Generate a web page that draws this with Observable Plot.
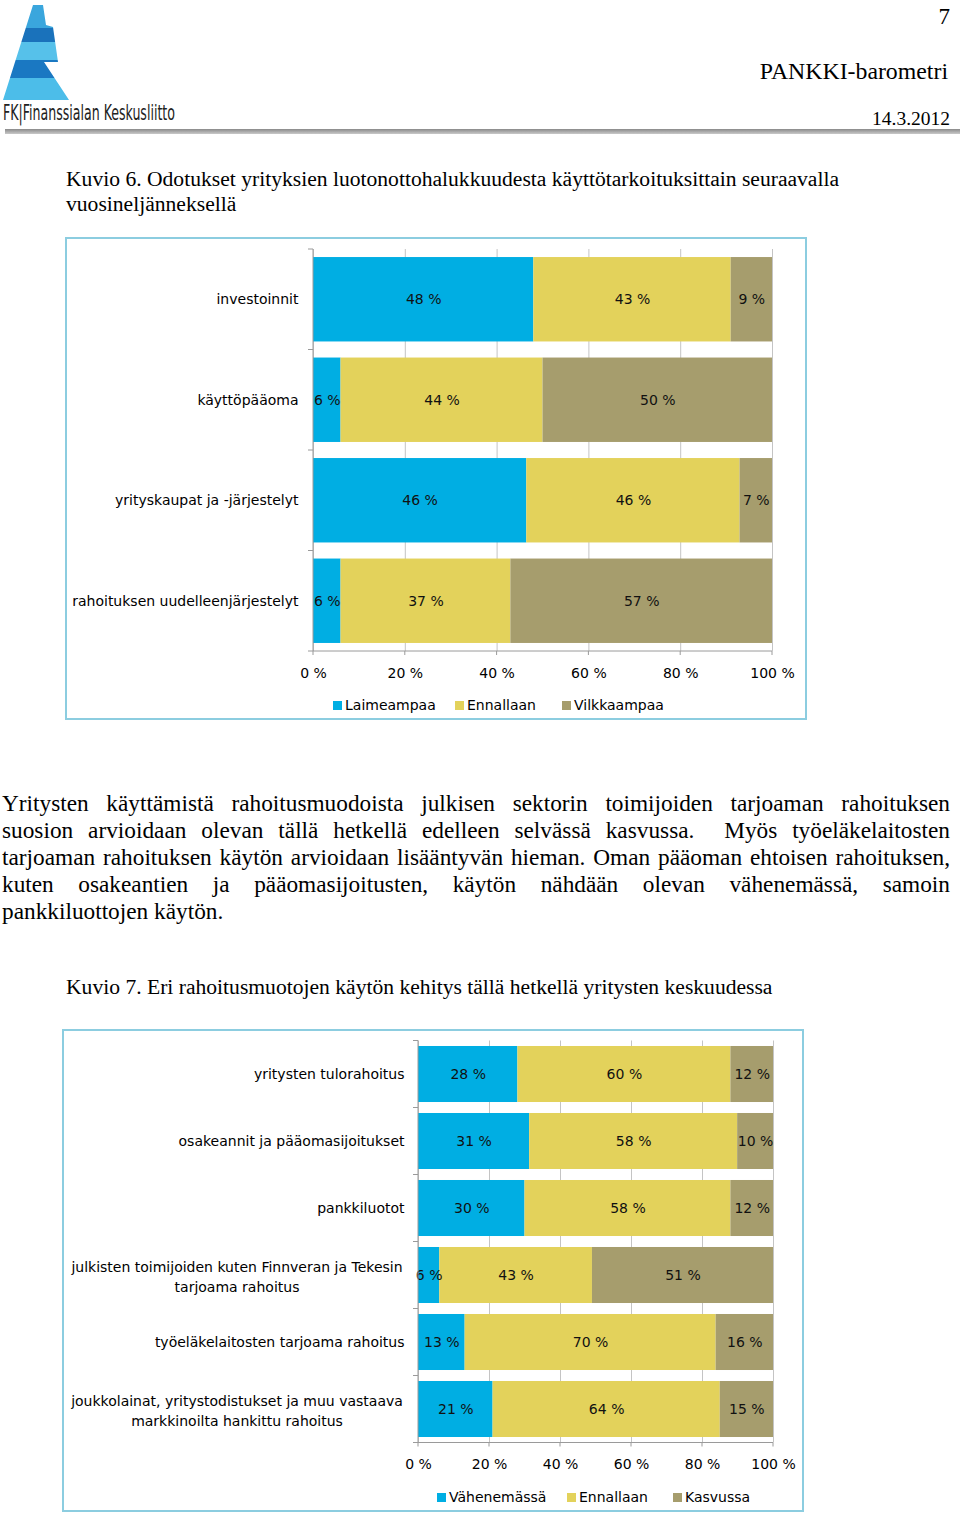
<!DOCTYPE html>
<html><head><meta charset="utf-8">
<script src="https://cdn.jsdelivr.net/npm/d3@7"></script>
<script src="https://cdn.jsdelivr.net/npm/@observablehq/plot@0.6"></script>
<style>
body{margin:0;background:#fff;}
#page{position:relative;width:960px;height:1513px;overflow:hidden;font-family:"Liberation Serif","Times New Roman",serif;color:#000;}
.abs{position:absolute;white-space:nowrap;}
.box{position:absolute;border:2px solid #8ccde0;box-sizing:border-box;}
.legend{position:absolute;font-family:"DejaVu Sans",sans-serif;font-size:14px;color:#000;height:18px;}
.legend .item{position:absolute;top:0;white-space:nowrap;line-height:18px;}
.legend .sw{display:inline-block;width:9px;height:9px;margin-right:3px;vertical-align:0px;}
.para{position:absolute;left:2px;width:948px;top:790px;font-size:23.3px;line-height:27px;}
.para div{text-align:justify;text-align-last:justify;white-space:nowrap;}
.para div.last{text-align-last:left;}
.chart{position:absolute;}
</style></head>
<body>
<div id="page">
  <svg class="abs" style="left:0;top:0" width="420" height="128">
    <defs><clipPath id="lc"><polygon points="33,5 43,5 46,25 53,27 58,62 44,62 69,100 3,100"/></clipPath></defs>
    <g clip-path="url(#lc)">
      <rect x="0" y="0" width="80" height="28" fill="#3aa6dd"/>
      <rect x="0" y="28" width="80" height="14" fill="#1a72bb"/>
      <rect x="0" y="42" width="80" height="18" fill="#56c1ea"/>
      <rect x="0" y="60" width="80" height="18" fill="#1a78c2"/>
      <rect x="0" y="78" width="80" height="24" fill="#4cbde9"/>
    </g>
    <text x="3" y="120" font-family="Liberation Sans Narrow, DejaVu Sans Condensed, sans-serif" font-size="22" fill="#222" textLength="172" lengthAdjust="spacingAndGlyphs">FK|Finanssialan Keskusliitto</text>
  </svg>
  <div class="abs" style="right:10px;top:5px;font-size:23px;line-height:23px;">7</div>
  <div class="abs" style="right:12px;top:60px;font-size:23.8px;line-height:23.8px;">PANKKI-barometri</div>
  <div class="abs" style="right:10px;top:109px;font-size:19.5px;line-height:19.5px;">14.3.2012</div>
  <div class="abs" style="left:5px;right:0;top:129px;height:5px;background:linear-gradient(#8a8a8a,#c9c9c9);"></div>

  <div class="abs" style="left:66px;top:167px;font-size:21.6px;line-height:25px;">Kuvio 6. Odotukset yrityksien luotonottohalukkuudesta käyttötarkoituksittain seuraavalla<br>vuosineljänneksellä</div>

  <div class="box" style="left:65px;top:237px;width:742px;height:483px;"></div>
  <div class="chart" id="c1" style="left:65px;top:240px;"></div>
  <div class="legend" id="l1" style="left:0;top:696px;"></div>

  <div class="para">
    <div>Yritysten käyttämistä rahoitusmuodoista julkisen sektorin toimijoiden tarjoaman rahoituksen</div>
    <div>suosion arvioidaan olevan tällä hetkellä edelleen selvässä kasvussa.&nbsp; Myös työeläkelaitosten</div>
    <div>tarjoaman rahoituksen käytön arvioidaan lisääntyvän hieman. Oman pääoman ehtoisen rahoituksen,</div>
    <div>kuten osakeantien ja pääomasijoitusten, käytön nähdään olevan vähenemässä, samoin</div>
    <div class="last">pankkiluottojen käytön.</div>
  </div>

  <div class="abs" style="left:66px;top:975px;font-size:21.6px;line-height:25px;">Kuvio 7. Eri rahoitusmuotojen käytön kehitys tällä hetkellä yritysten keskuudessa</div>

  <div class="box" style="left:62px;top:1029px;width:742px;height:483px;"></div>
  <div class="chart" id="c2" style="left:62px;top:1032px;"></div>
  <div class="legend" id="l2" style="left:0;top:1488px;"></div>
</div>
<script>
// ---- Data: Kuvio 6 ----
const cats1 = ["investoinnit", "käyttöpääoma", "yrityskaupat ja -järjestelyt", "rahoituksen uudelleenjärjestelyt"];
const series1 = ["Laimeampaa", "Ennallaan", "Vilkkaampaa"];
const laimeampaa = [48, 6, 46, 6];
const ennallaan1 = [43, 44, 46, 37];
const vilkkaampaa = [9, 50, 7, 57];

// ---- Data: Kuvio 7 ----
const cats2 = [
  "yritysten tulorahoitus",
  "osakeannit ja pääomasijoitukset",
  "pankkiluotot",
  "julkisten toimijoiden kuten Finnveran ja Tekesin\ntarjoama rahoitus",
  "työeläkelaitosten tarjoama rahoitus",
  "joukkolainat, yritystodistukset ja muu vastaava\nmarkkinoilta hankittu rahoitus"
];
const series2 = ["Vähenemässä", "Ennallaan", "Kasvussa"];
const vahenemassa = [28, 31, 30, 6, 13, 21];
const ennallaan2 = [60, 58, 58, 43, 70, 64];
const kasvussa = [12, 10, 12, 51, 16, 15];

const xTicks = [0, 20, 40, 60, 80, 100];
const palette = ["#00aee3", "#e3d25b", "#a69d6d"];

function rowsOf(cats, series, cols) {
  return cats.flatMap((c, i) => series.map((s, j) => ({cat: c, series: s, value: cols[j][i]})));
}

function makeChart(cats, series, cols, opts) {
  const rows = rowsOf(cats, series, cols);
  const ticks = xTicks.map(d => d / 100);
  const marks = [
    Plot.ruleX(ticks, {stroke: "#c4c4c4", strokeWidth: 1}),
    Plot.barX(rows, Plot.stackX({x: "value", y: "cat", fill: "series", offset: "normalize"})),
    Plot.text(rows, Plot.stackX({x: "value", y: "cat", z: "series", text: d => d.value + " %", offset: "normalize", fill: "#111"}))
  ];
  if (opts.customLabels) {
    marks.push(Plot.text(cats.filter(c => !c.includes("\n")), {y: d => d, text: d => d, frameAnchor: "left", textAnchor: "end", dx: -opts.labelGap, fill: "#000"}));
    marks.push(Plot.text(cats.filter(c => c.includes("\n")), {y: d => d, text: d => d, frameAnchor: "left", textAnchor: "middle", dx: -opts.centerOffset, lineHeight: 1.42, fill: "#000"}));
  }
  const p = Plot.plot({
    width: 741, height: 450,
    marginLeft: opts.marginLeft, marginRight: opts.marginRight,
    marginTop: opts.marginTop, marginBottom: opts.marginBottom,
    style: {fontFamily: "DejaVu Sans, sans-serif", fontSize: "14px", color: "#000", background: "transparent", overflow: "visible"},
    x: {domain: [0, 1], ticks: ticks, tickFormat: d => Math.round(d * 100) + " %", tickSize: 0, tickPadding: opts.xPad, label: null},
    y: opts.customLabels
      ? {domain: cats, paddingInner: opts.pad, paddingOuter: opts.pad / 2, round: false, axis: null, label: null}
      : {domain: cats, paddingInner: opts.pad, paddingOuter: opts.pad / 2, round: false, tickSize: 0, tickPadding: opts.labelGap, label: null},
    color: {domain: series, range: palette},
    marks
  });
  // axis line + band-boundary ticks using the plot's own scales
  const sx = p.scale("x"), sy = p.scale("y");
  const x0 = sx.apply(0), x1 = sx.apply(1);
  const yTop = sy.range[0], yBot = sy.range[1];
  const svg = d3.select(p);
  svg.append("line").attr("x1", x0).attr("x2", x1).attr("y1", yBot).attr("y2", yBot).attr("stroke", "#9a9a9a");
  svg.append("line").attr("x1", x0).attr("x2", x0).attr("y1", yTop).attr("y2", yBot).attr("stroke", "#9a9a9a");
  for (let i = 0; i <= cats.length; i++) {
    const yy = yTop + i * sy.step;
    svg.append("line").attr("x1", x0 - 5).attr("x2", x0).attr("y1", yy).attr("y2", yy).attr("stroke", "#9a9a9a");
  }
  for (const t of ticks) {
    svg.append("line").attr("x1", sx.apply(t)).attr("x2", sx.apply(t)).attr("y1", yBot).attr("y2", yBot + 4).attr("stroke", "#9a9a9a");
  }
  return p;
}

function makeLegend(el, series, lefts) {
  series.forEach((s, i) => {
    const item = document.createElement("div");
    item.className = "item";
    item.style.left = lefts[i] + "px";
    const sw = document.createElement("span");
    sw.className = "sw";
    sw.style.background = palette[i];
    item.appendChild(sw);
    item.appendChild(document.createTextNode(s));
    el.appendChild(item);
  });
}

document.getElementById("c1").appendChild(makeChart(cats1, series1, [laimeampaa, ennallaan1, vilkkaampaa], {
  marginLeft: 248, marginRight: 34, marginTop: 9, marginBottom: 39, pad: 0.16, labelGap: 15, xPad: 17
}));
document.getElementById("c2").appendChild(makeChart(cats2, series2, [vahenemassa, ennallaan2, kasvussa], {
  marginLeft: 356, marginRight: 30, marginTop: 8.5, marginBottom: 39.5, pad: 0.164, labelGap: 14, customLabels: true, centerOffset: 181.5, xPad: 16
}));
makeLegend(document.getElementById("l1"), series1, [333, 455, 562]);
makeLegend(document.getElementById("l2"), series2, [437, 567, 673]);
</script>
</body></html>
